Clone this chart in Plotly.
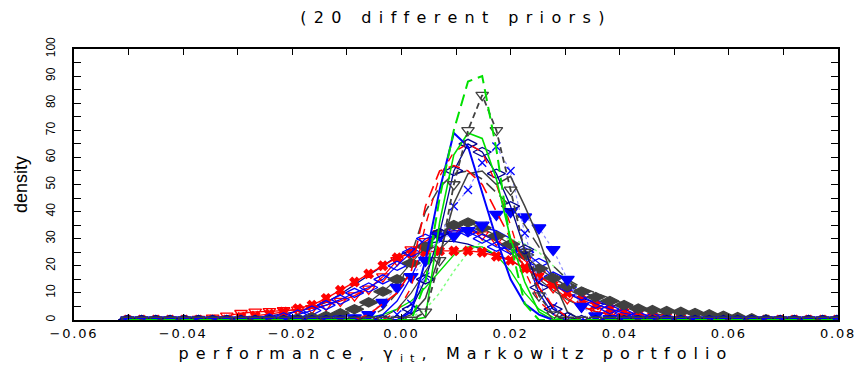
import plotly.graph_objects as go

# common x grid (performance values)
x_grid = [-0.0502, -0.0476, -0.0450, -0.0424, -0.0398, -0.0372, -0.0346, -0.0320, -0.0294, -0.0268,
          -0.0242, -0.0216, -0.0190, -0.0164, -0.0138, -0.0112, -0.0086, -0.0060, -0.0034, -0.0008,
          0.0018, 0.0044, 0.0070, 0.0096, 0.0122, 0.0148, 0.0174, 0.0200, 0.0226, 0.0252,
          0.0278, 0.0304, 0.0330, 0.0356, 0.0382, 0.0408, 0.0434, 0.0460, 0.0486, 0.0512,
          0.0538, 0.0564, 0.0590, 0.0616, 0.0642, 0.0668, 0.0694, 0.0720, 0.0746, 0.0772, 0.0798]

Z10 = [0, 0, 0, 0, 0, 0, 0, 0, 0, 0]
Z11 = [0, 0, 0, 0, 0, 0, 0, 0, 0, 0, 0]

navy_broad = ([0, 0, 0, 0, 0, 0, 0, 0, 0, 0.8]
              + [1.5, 2.2, 3.2, 4.5, 6.5, 9.5, 13, 16.5, 20, 23.5]
              + [26, 28, 29, 29, 28, 26, 24, 22, 19, 16]
              + [13, 10, 8, 6.5, 5.5, 5, 4.5, 4, 3.5, 3]
              + [2.6, 2, 1.5, 1, 0.6, 0.3, 0, 0, 0, 0, 0])
gray_broad = (Z10 + [0, 0, 0, 0, 0, 0, 0, 0, 1, 4]
              + [10, 18, 26, 31, 33, 32, 29, 25, 20, 15]
              + [11, 7.5, 5, 3, 2, 1, 0.5, 0, 0, 0] + Z11)
green_dotted = (Z10 + Z10
                + [1, 4, 10, 18, 25, 29, 30, 30, 28, 25]
                + [20, 15, 11, 8, 5.5, 3.5, 2, 1, 0.5, 0] + Z11)
gray_longdash = (Z10 + [0, 0, 0, 0, 0, 0, 0, 1, 4, 10]
                 + [24, 40, 49, 54, 55, 52, 47, 42, 35, 27]
                 + [20, 15, 12, 10, 8, 6, 4, 2.5, 1.5, 0.5] + Z11)
green_low = (Z10 + [0, 0, 0, 0, 0, 0, 0.3, 1, 2, 4]
             + [7, 12, 18, 24, 27, 27, 24, 18, 10, 4]
             + [1, 0, 0, 0, 0, 0, 0, 0, 0, 0] + Z11)
blue_flat = (Z10 + [0, 0, 0, 0, 0, 0, 0, 0.5, 2, 7]
             + [16, 27, 32, 34, 34, 34, 33, 30, 24, 10]
             + [2, 0, 0, 0, 0, 0, 0, 0, 0, 0] + Z11)
red_x = ([0, 0, 0, 0, 0, 0, 0, 0, 1, 1.5]
         + [2.2, 3, 4.2, 5.5, 8, 11, 14, 17, 20, 23]
         + [24.5, 25, 25.5, 25.5, 25.5, 25, 23.5, 22, 19, 16]
         + [13, 10, 7.5, 5.5, 4, 3, 2.2, 1.6, 1.2, 0.8]
         + [0.5, 0.3, 0, 0, 0, 0, 0, 0, 0, 0, 0])
red_tri = ([0, 0, 0, 0, 0, 0.3, 0.8, 1.5, 2.5, 3]
           + [3.2, 3.5, 3.7, 4.3, 5.5, 7, 9, 11.5, 16, 22]
           + [26, 29, 32, 33, 33, 31.5, 29.5, 26, 22, 17]
           + [12, 8, 5, 3.2, 2, 1.4, 1, 0.6, 0.3, 0] + Z11)
blue_dia = (Z10 + [0.5, 1, 2, 3.5, 5.5, 7.5, 10, 12, 15, 20]
            + [25, 30, 32, 33, 32.5, 30, 27, 26, 25, 21]
            + [16, 12, 9, 6, 4, 2.5, 1.5, 1, 0.5, 0] + Z11)
gray_dia = (Z10 + [0, 0, 0.5, 1, 1.5, 2.5, 4, 6.5, 10.5, 15]
            + [21, 27, 32, 35, 36, 34, 31, 28, 24, 19]
            + [15.5, 12.5, 10.5, 8.5, 7, 5.5, 4.2, 3.7, 3.3, 3]
            + [2.6, 2.1, 1.6, 1.1, 0.6, 0.3, 0, 0, 0, 0, 0])
blue_tri = (Z10 + [0, 0, 0, 0, 0, 0.3, 0.8, 2, 6.5, 12]
            + [16, 22, 31, 31, 33, 35, 39, 40, 38, 34]
            + [26, 15, 5, 1.5, 0.5, 0, 0, 0, 0, 0] + Z11)
blue_x = (Z10 + [0, 0, 0, 0, 0, 0, 0, 0, 0, 2]
          + [6, 16, 30, 42, 48, 58, 64, 55, 32, 14]
          + [5, 1, 0, 0, 0, 0, 0, 0, 0, 0] + Z11)
gray_jag = (Z10 + Z10
            + [2, 8, 24, 43, 54, 55, 50, 53, 42, 30]
            + [15, 3, 0, 0, 0, 0, 0, 0, 0, 0] + Z11)
navy_dia = (Z10 + Z10
            + [4, 15, 32, 55, 65, 62, 54, 42, 26, 12]
            + [4, 1, 0, 0, 0, 0, 0, 0, 0, 0] + Z11)
red_longdash = (Z10 + [0, 0, 0, 0, 0, 0, 0, 2, 6, 10]
                + [18, 42, 55, 57, 55, 50, 40, 30, 22, 12]
                + [5, 1, 0, 0, 0, 0, 0, 0, 0, 0] + Z11)
red_dash = (Z10 + [0, 0, 0, 0, 0, 0, 0, 0, 0, 3]
            + [12, 35, 53, 62, 65, 62, 50, 35, 18, 7]
            + [2, 0, 0, 0, 0, 0, 0, 0, 0, 0] + Z11)
green_solid = (Z10 + Z10
               + [0, 1, 36, 61, 69, 67, 52, 30, 14, 3]
               + [0, 0, 0, 0, 0, 0, 0, 0, 0, 0] + Z11)
blue_solid = (Z10 + Z10
              + [3, 22, 48, 69, 64, 47, 30, 15, 6, 2]
              + [0, 0, 0, 0, 0, 0, 0, 0, 0, 0] + Z11)
gray_tri = (Z10 + Z10
            + [0, 3, 22, 50, 70, 83, 70, 48, 25, 9]
            + [2, 0, 0, 0, 0, 0, 0, 0, 0, 0] + Z11)
green_longdash = (Z10 + Z10
                  + [0, 14, 45, 70, 88, 90, 63, 28, 6, 0]
                  + [0, 0, 0, 0, 0, 0, 0, 0, 0, 0] + Z11)

RED = "#ff0000"
BLUE = "#0000ff"
NAVY = "#000090"
GRAY = "#404040"
GREEN = "#00e000"
LBLUE = "#8c8cff"
LGREEN = "#80ff80"

# (y, color, dash, width, marker symbol, marker size, marker color)
series = [
    (navy_broad, NAVY, "solid", 1.4, None, 0, None),
    (gray_broad, GRAY, "solid", 1.2, None, 0, None),
    (green_dotted, LGREEN, "dot", 1.5, None, 0, None),
    (gray_longdash, GRAY, "12px,6px", 1.5, None, 0, None),
    (green_low, GREEN, "solid", 1.3, None, 0, None),
    (blue_flat, BLUE, "solid", 1.3, None, 0, None),
    (red_x, RED, "solid", 1.3, "x", 8, RED),
    (red_tri, RED, "solid", 1.3, "triangle-down-open", 11, RED),
    (blue_dia, BLUE, "solid", 1.2, "diamond-wide-open", 13, BLUE),
    (gray_dia, GRAY, "solid", 1.2, "diamond-wide", 13, GRAY),
    (blue_tri, LBLUE, "dot", 1.2, "triangle-down", 12, BLUE),
    (blue_x, LBLUE, "dot", 1.2, "x-thin-open", 8, BLUE),
    (gray_jag, GRAY, "solid", 1.5, None, 0, None),
    (navy_dia, NAVY, "solid", 1.3, "diamond-wide-open", 13, NAVY),
    (red_longdash, RED, "12px,7px", 1.6, None, 0, None),
    (red_dash, RED, "8px,8px", 1.4, None, 0, None),
    (green_solid, GREEN, "solid", 1.6, None, 0, None),
    (blue_solid, BLUE, "solid", 2.0, None, 0, None),
    (gray_tri, GRAY, "6px,4px", 1.8, "triangle-down-open", 11, GRAY),
    (green_longdash, GREEN, "12px,6px", 2.0, None, 0, None),
]

fig = go.Figure()
for y, col, dash, w, sym, msz, mcol in series:
    if sym is None:
        fig.add_trace(go.Scatter(x=x_grid, y=y, mode="lines",
                                 line=dict(color=col, dash=dash, width=w),
                                 hoverinfo="skip", showlegend=False))
    else:
        mline = dict(width=1.3, color=mcol)
        fig.add_trace(go.Scatter(x=x_grid, y=y, mode="lines+markers",
                                 line=dict(color=col, dash=dash, width=w),
                                 marker=dict(symbol=sym, size=msz, color=mcol, line=mline),
                                 hoverinfo="skip", showlegend=False))

tickfont_x = dict(family="DejaVu Sans", size=13, color="black")
tickfont_y = dict(family="Liberation Sans", size=12, color="black")

fig.update_layout(
    width=863, height=365, autosize=False,
    margin=dict(l=74, r=25, t=49, b=45, autoexpand=False),
    paper_bgcolor="white", plot_bgcolor="white",
    showlegend=False,
    title=dict(text="(20 different priors)", x=0.5, xref="paper",
               y=1 - 17 / 365, yref="container", yanchor="middle", xanchor="center",
               font=dict(family="DejaVu Sans", size=16, color="black"), automargin=False),
    xaxis=dict(range=[-0.06, 0.08], showgrid=False, zeroline=False, automargin=False,
               showline=True, linecolor="black", linewidth=2, mirror="allticks",
               ticks="inside", ticklen=6, tickwidth=1, tickcolor="black",
               tick0=0, dtick=0.02, tickformat=".2f", tickfont=tickfont_x,
               ticklabelstandoff=0,
               minor=dict(ticks="inside", ticklen=6, dtick=0.01, tickcolor="black", tickwidth=1),
               title=dict(text="performance, γ<sub>it</sub>, Markowitz portfolio",
                          font=dict(family="DejaVu Sans", size=16, color="black"), standoff=8)),
    yaxis=dict(range=[0, 100], showgrid=False, zeroline=False, automargin=False,
               showline=True, linecolor="black", linewidth=2, mirror="allticks",
               ticks="inside", ticklen=7, tickwidth=1, tickcolor="black",
               tick0=0, dtick=10, tickangle=-90, tickfont=tickfont_y,
               ticklabelstandoff=12,
               minor=dict(ticks="inside", ticklen=7, dtick=5, tickcolor="black", tickwidth=1),
               title=dict(text="density", font=dict(family="Liberation Sans", size=18, color="black"),
                          standoff=12)),
)

post = """
var gd = document.getElementById('{plot_id}');
function fitText(el, target){
  el.style.letterSpacing = '0px';
  var b0 = el.getBBox();
  var c0 = b0.x + b0.width / 2;
  var n = el.textContent.length;
  var ls = (target - b0.width) / Math.max(n - 1, 1);
  el.style.letterSpacing = ls + 'px';
  var b1 = el.getBBox();
  var c1 = b1.x + b1.width / 2;
  var x = parseFloat(el.getAttribute('x') || '0');
  el.setAttribute('x', x + (c0 - c1));
}
function spacing(){
  gd.querySelectorAll('.gtitle').forEach(function(t){ fitText(t, 304); });
  gd.querySelectorAll('.xtitle').forEach(function(t){ fitText(t, 562); });
  gd.querySelectorAll('.xtick text').forEach(function(t){
    t.style.letterSpacing = '0px';
    var w = t.getBBox().width;
    fitText(t, w + 1.8 * (t.textContent.length - 1));
  });
}
spacing();
"""

fig.write_html("out.html", post_script=post, config={"responsive": False})
